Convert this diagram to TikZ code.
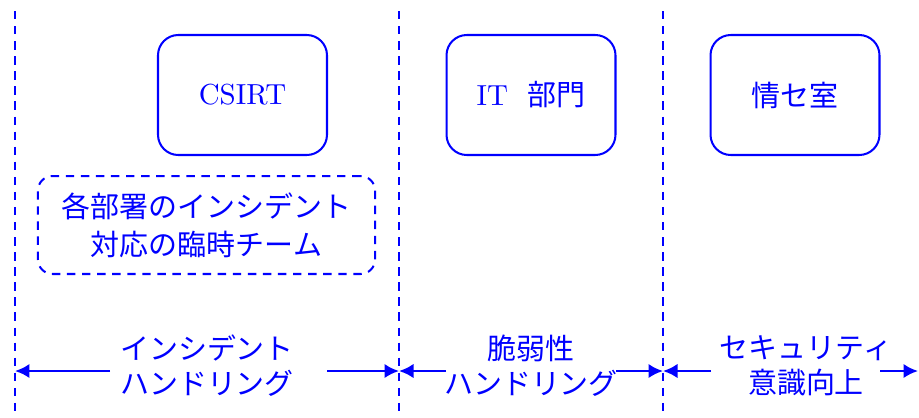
\documentclass[tikz,border=0pt]{standalone}
\usepackage{fontspec}
\newfontfamily\cjk{Noto Sans CJK JP}
\usetikzlibrary{arrows.meta}
\begin{document}
\begin{tikzpicture}[x=0.345pt,y=-0.345pt,
  dsh/.style={dash pattern=on 2.9pt off 2.3pt},
  unit/.style={draw=blue, line width=0.7pt, rounded corners=7pt, minimum width=58.3pt, minimum height=41.4pt, text=blue, inner sep=0pt},
  team/.style={draw=blue, line width=0.7pt, dsh, rounded corners=5pt, minimum width=116.3pt, minimum height=33.8pt, text=blue, align=center, inner sep=0pt},
  divider/.style={draw=blue, line width=0.65pt, dsh},
  lbl/.style={text=blue, align=center, inner sep=0pt, font=\cjk},
  arr/.style={draw=blue, line width=0.9pt, -{Latex[length=5pt,width=5pt]}}]
\useasboundingbox (0,0) rectangle (919,417);
% dividers
\coordinate (v0t) at (15,11);  \coordinate (v0b) at (15,417);
\coordinate (v1t) at (399,11); \coordinate (v1b) at (399,417);
\coordinate (v2t) at (663,11); \coordinate (v2b) at (663,417);
\coordinate (v3t) at (918,11);
\draw[divider] (v0t) -- (v0b);
\draw[divider] (v1t) -- (v1b);
\draw[divider] (v2t) -- (v2b);
% boxes
\node[unit] (csirt) at (242.5,95) {CSIRT};
\node[unit] (it) at (531,95) {IT\ \ {\cjk 部門}};
\node[unit] (jose) at (795,95) {\cjk 情セ室};
\node[team] (tmp) at (206.5,225) {{\cjk 各部署のインシデント}\\[1pt]{\cjk 対応の臨時チーム}};
% labels
\node[lbl] (l1) at (207,366) {インシデント\\ハンドリング};
\node[lbl] (l2) at (531,366) {脆弱性\\ハンドリング};
\node[lbl] (l3) at (806,366) {セキュリティ\\意識向上};
% arrow ends
\coordinate (a1) at (110,371); \coordinate (b1) at (327,371);
\coordinate (a2) at (446,371); \coordinate (b2) at (616,371);
\coordinate (a3) at (711,371); \coordinate (b3) at (880,371);
\draw[arr] (a1) -- (a1 -| v0t);
\draw[arr] (b1) -- (b1 -| v1t);
\draw[arr] (a2) -- (a2 -| v1t);
\draw[arr] (b2) -- (b2 -| v2t);
\draw[arr] (a3) -- (a3 -| v2t);
\draw[arr] (b3) -- (b3 -| v3t);
\end{tikzpicture}
\end{document}
